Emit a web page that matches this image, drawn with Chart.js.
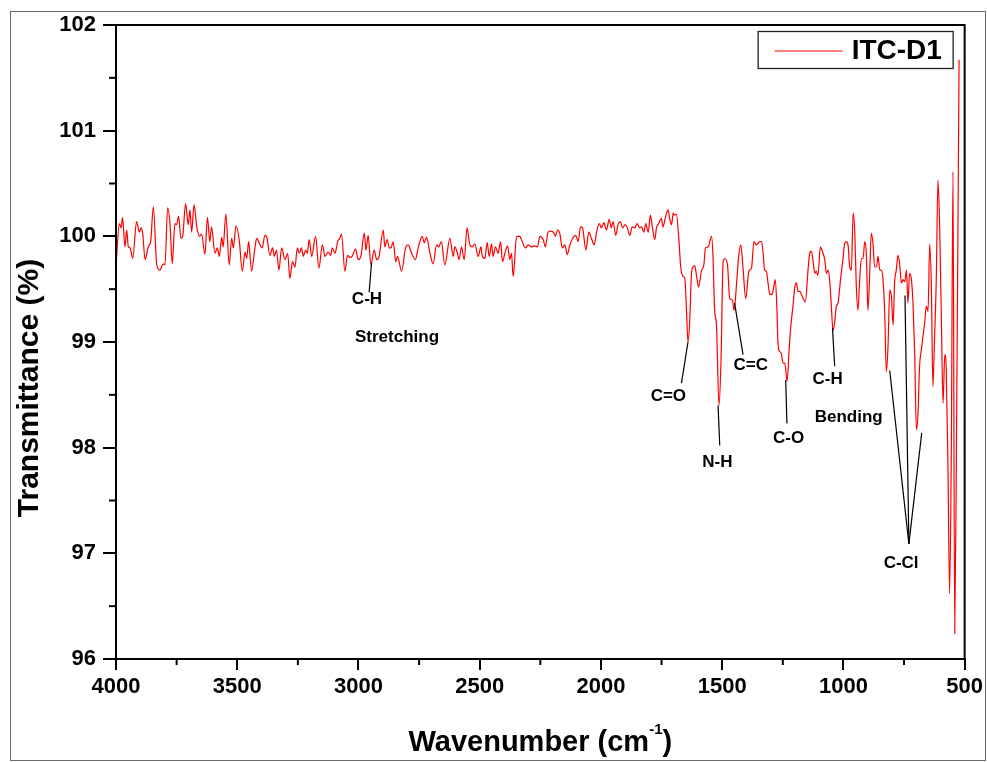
<!DOCTYPE html>
<html>
<head>
<meta charset="utf-8">
<script src="https://cdn.jsdelivr.net/npm/chart.js@4.4.1/dist/chart.umd.min.js"></script>
<style>
  html, body { margin: 0; padding: 0; background: #fff; }
  #wrap { width: 987px; height: 762px; position: relative; }
</style>
</head>
<body>
<div id="wrap"><canvas id="c" width="987" height="762"></canvas></div>
<script>
// FTIR spectrum of ITC-D1: wavenumber (cm-1) and transmittance (%)
const wavenumber = [
  4000,3986,3979,3973,3963,3956,3949,3942,3931,3915,3904,3897,3890,3880,3867,3857,3846,3832,3819,3805,
  3798,3787,3777,3768,3757,3750,3742,3732,3725,3713,3702,3695,3688,3678,3667,3654,3647,3633,3623,3613,
  3606,3592,3582,3574,3564,3558,3547,3533,3523,3516,3505,3492,3479,3468,3461,3453,3441,3427,3420,3406,
  3397,3386,3379,3365,3354,3347,3338,3328,3317,3303,3292,3283,3272,3262,3252,3244,3235,3228,3218,3211,
  3203,3193,3177,3163,3149,3138,3125,3115,3108,3097,3090,
  3086,3077,3070,3056,3045,3035,3026,3012,3001,2990,2976,2969,2960,2949,2935,2925,2915,2898,2891,2882,
  2873,2866,2857,2846,2839,2822,2805,2795,2781,2765,2754,2737,2729,2719,2706,2692,2678,2669,2658,2644,
  2623,2609,2603,2592,2585,2575,2564,2552,2541,2531,2520,2506,2495,2490,2479,2469,2461,2451,2445,2435,
  2424,2414,2406,2396,2385,2376,2369,2362,2348,2335,2328,2311,2300,2287,2273,2262,2252,2238,2229,2218,
  2204,2194,2188,2179,
  2170,2159,2149,2139,2128,2117,2104,2094,2084,2076,2062,2050,2039,2028,2018,2007,1998,1988,1977,1966,
  1957,1950,1939,1929,1920,1911,1900,1891,1881,1871,1860,1851,1840,1833,1823,1815,1805,1796,1788,1778,
  1771,1762,1751,1744,1733,1723,1716,1709,1702,1696,1689,1678,1671,1661,1654,1647,1641,1634,1627,1620,
  1613,1606,1597,1586,1575,1569,1558,1544,1538,1531,1524,1513,1505,1496,1489,1478,1469,1458,1451,1441,
  1432,1423,1414,1403,1390,1379,1369,1359,
  1345,1338,1331,1325,1318,1311,1304,1294,1286,1281,1274,1270,1263,1256,1249,1242,1232,1224,1217,1208,
  1201,1194,1187,1180,1173,1166,1157,1146,1139,1132,1125,1118,1112,1105,1095,1087,1077,1070,1063,1057,
  1050,1043,1036,1029,1022,1015,1008,1002,995,988,981,974,967,960,953,947,940,933,926,919,
  912,905,899,892,885,878,871,864,857,850,844,837,830,823,816,809,802,795,789,782,
  775,768,761,754,747,740,734,727,720,713,706,699,692,686,679,672,665,658,651,644,
  637,631,624,617,610,603,596,589,582,576,569,562,555,548,541,534,523
];
const transmittance = [
  99.72,100.12,100.08,100.18,99.90,100.06,99.90,99.89,99.79,100.14,100.04,100.08,100.03,99.78,99.90,99.95,100.28,99.73,99.68,99.74,
  99.73,100.27,100.11,99.74,100.12,100.11,100.19,99.98,100.00,100.31,100.11,100.25,100.04,100.30,100.09,100.00,100.02,99.83,100.18,99.95,
  100.09,99.84,99.89,99.81,99.99,99.90,100.21,99.73,99.98,99.89,100.10,99.97,99.67,99.85,99.79,99.95,99.67,99.89,99.98,99.92,
  99.89,100.01,100.00,99.82,99.89,99.81,99.87,99.68,99.89,99.78,99.84,99.60,99.76,99.71,99.89,99.84,99.89,99.81,99.87,99.84,
  99.97,99.81,100.00,99.70,99.92,99.81,99.85,99.82,99.89,99.84,99.90,
  99.95,99.98,100.02,99.67,99.82,99.80,99.81,99.88,99.78,99.81,100.03,99.87,100.01,99.73,99.87,99.78,99.81,100.06,99.90,99.97,
  99.89,99.89,99.95,99.76,99.81,99.67,99.90,99.92,99.84,99.78,99.89,100.00,99.94,99.99,99.85,99.74,99.92,99.90,99.95,99.73,
  99.98,99.81,99.90,99.84,99.78,99.90,99.78,100.08,99.92,99.90,99.93,99.81,99.90,99.82,99.79,99.94,99.81,99.93,99.81,99.90,
  99.84,99.95,99.76,99.84,99.91,99.78,99.84,99.62,100.00,100.00,99.97,99.89,99.92,99.90,99.91,99.90,100.00,99.97,99.90,100.04,
  100.05,100.03,100.00,100.06,
  100.03,99.89,99.92,99.83,99.92,99.98,100.01,99.95,100.09,100.08,99.87,100.04,99.98,99.92,100.04,100.12,100.08,100.13,100.06,100.16,
  100.08,100.14,100.01,100.12,100.14,100.08,100.11,100.08,100.01,100.09,100.08,100.12,100.08,100.09,100.04,100.12,100.04,100.20,100.09,99.97,
  100.08,100.12,100.17,100.09,100.19,100.25,100.16,100.11,100.22,100.20,100.21,99.95,99.71,99.62,99.60,99.29,99.00,99.19,99.63,99.71,
  99.72,99.63,99.52,99.67,99.74,99.89,99.90,100.00,99.82,99.29,99.18,98.40,98.81,99.76,99.79,99.73,99.41,99.40,99.30,99.54,
  99.81,99.92,99.70,99.41,99.67,99.70,99.95,99.92,
  99.95,99.95,99.84,99.68,99.67,99.56,99.45,99.45,99.54,99.59,99.30,98.99,98.91,98.89,98.80,98.80,98.63,98.92,99.15,99.34,
  99.51,99.56,99.48,99.48,99.45,99.41,99.38,99.68,99.84,99.86,99.76,99.65,99.67,99.63,99.90,99.86,99.78,99.65,99.68,99.59,
  99.35,99.11,99.19,99.34,99.37,99.52,99.67,99.78,99.93,99.95,99.92,99.71,99.68,100.22,100.03,99.54,99.30,99.59,99.79,99.79,
  99.95,99.81,99.30,99.62,100.03,99.93,99.71,99.71,99.81,99.68,99.68,99.60,99.30,98.72,98.96,99.49,99.43,99.16,99.56,99.68,
  99.82,99.74,99.56,99.59,99.57,99.68,99.37,99.65,99.60,99.37,98.89,98.17,98.34,98.77,98.92,99.05,99.18,99.34,99.29,99.93,
  99.49,98.58,99.05,99.59,100.53,100.09,99.21,98.42,98.88,98.74,97.85,96.62,97.98,100.61,96.24,97.95,101.67
];

const seriesName = 'ITC-D1';
const xMajorTicks = [4000, 3500, 3000, 2500, 2000, 1500, 1000, 500];
const xMinorTicks = [3750, 3250, 2750, 2250, 1750, 1250, 750];
const yMajorTicks = [96, 97, 98, 99, 100, 101, 102];
const yMinorTicks = [96.5, 97.5, 98.5, 99.5, 100.5, 101.5];

// Band assignments: text and anchor (wavenumber, transmittance)
const bandText = ['C-H', 'Stretching', 'C=O', 'N-H', 'C=C', 'C-O', 'C-H', 'Bending', 'C-Cl'];
const bandTextX = [2965, 2841, 1722, 1520, 1382, 1226, 1065, 978, 762];
const bandTextY = [99.40, 99.04, 98.49, 97.86, 98.78, 98.09, 98.65, 98.29, 96.91];

// Leader lines from a band to its label
const leaderFromX = [2946, 1641, 1517, 1449, 1238, 1045, 809, 746, 677];
const leaderFromY = [99.75, 99.00, 98.40, 99.37, 98.64, 99.13, 98.73, 99.44, 98.14];
const leaderToX   = [2956, 1668, 1510, 1414, 1233, 1036, 730, 730, 730];
const leaderToY   = [99.47, 98.61, 98.02, 98.88, 98.23, 98.77, 97.09, 97.09, 97.09];

const FONT = '"Liberation Sans", Arial, Helvetica, sans-serif';

const points = wavenumber.map((w, i) => ({ x: w, y: transmittance[i] }));

const decor = {
  id: 'decor',
  afterDraw(chart) {
    const { ctx, chartArea: a, scales: { x, y } } = chart;
    ctx.save();

    // leader lines
    ctx.strokeStyle = '#000';
    ctx.lineWidth = 1.2;
    for (let i = 0; i < leaderFromX.length; i++) {
      ctx.beginPath();
      ctx.moveTo(x.getPixelForValue(leaderFromX[i]), y.getPixelForValue(leaderFromY[i]));
      ctx.lineTo(x.getPixelForValue(leaderToX[i]), y.getPixelForValue(leaderToY[i]));
      ctx.stroke();
    }

    // band labels
    ctx.fillStyle = '#000';
    ctx.font = 'bold 17px ' + FONT;
    ctx.textAlign = 'center';
    ctx.textBaseline = 'middle';
    for (let i = 0; i < bandText.length; i++) {
      ctx.fillText(bandText[i], x.getPixelForValue(bandTextX[i]), y.getPixelForValue(bandTextY[i]));
    }

    // plot frame
    ctx.strokeStyle = '#000';
    ctx.lineWidth = 2;
    ctx.strokeRect(a.left, a.top, a.right - a.left, a.bottom - a.top);

    // minor ticks
    ctx.lineWidth = 2;
    xMinorTicks.forEach(v => {
      const px = x.getPixelForValue(v);
      ctx.beginPath(); ctx.moveTo(px, a.bottom); ctx.lineTo(px, a.bottom + 6); ctx.stroke();
    });
    yMinorTicks.forEach(v => {
      const py = y.getPixelForValue(v);
      ctx.beginPath(); ctx.moveTo(a.left - 7, py); ctx.lineTo(a.left, py); ctx.stroke();
    });

    // legend
    const lx = a.right - 207, ly = a.top + 6;
    ctx.lineWidth = 1.3;
    ctx.strokeStyle = '#222';
    ctx.strokeRect(lx + 0.5, ly + 0.5, 195, 37);
    ctx.strokeStyle = '#ff0000';
    ctx.lineWidth = 1.2;
    ctx.beginPath(); ctx.moveTo(lx + 17, ly + 20); ctx.lineTo(lx + 85, ly + 20); ctx.stroke();
    ctx.fillStyle = '#000';
    ctx.font = 'bold 28px ' + FONT;
    ctx.textAlign = 'left';
    ctx.textBaseline = 'middle';
    ctx.fillText(seriesName, lx + 94, ly + 20);

    // x axis title with superscript
    ctx.textBaseline = 'middle';
    const t1 = 'Wavenumber (cm';
    ctx.font = 'bold 29px ' + FONT;
    const w1 = ctx.measureText(t1).width;
    ctx.font = 'bold 15px ' + FONT;
    const w2 = ctx.measureText('-1').width;
    ctx.font = 'bold 29px ' + FONT;
    const w3 = ctx.measureText(')').width;
    const sx = (a.left + a.right) / 2 - (w1 + w2 + w3) / 2;
    const ty = 743;
    ctx.textAlign = 'left';
    ctx.fillText(t1, sx, ty);
    ctx.font = 'bold 15px ' + FONT;
    ctx.fillText('-1', sx + w1, ty - 13);
    ctx.font = 'bold 29px ' + FONT;
    ctx.fillText(')', sx + w1 + w2, ty);

    // y axis title
    ctx.translate(30, 388);
    ctx.rotate(-Math.PI / 2);
    ctx.textAlign = 'center';
    ctx.font = 'bold 30px ' + FONT;
    ctx.fillText('Transmittance (%)', 0, 0);
    ctx.setTransform(1, 0, 0, 1, 0, 0);

    // outer figure border
    ctx.strokeStyle = '#666';
    ctx.lineWidth = 1;
    ctx.strokeRect(10.5, 11.5, 975, 749);

    ctx.restore();
  }
};

new Chart(document.getElementById('c'), {
  type: 'line',
  data: {
    datasets: [{
      label: seriesName,
      data: points,
      borderColor: '#ff0000',
      borderWidth: 1.2,
      pointRadius: 0,
      fill: false,
      cubicInterpolationMode: 'monotone'
    }]
  },
  options: {
    responsive: false,
    animation: false,
    events: [],
    layout: { padding: { left: 10, top: 25, right: 22, bottom: 0 } },
    plugins: { legend: { display: false }, tooltip: { enabled: false } },
    scales: {
      x: {
        type: 'linear',
        reverse: true,
        min: 500,
        max: 4000,
        afterBuildTicks(scale) { scale.ticks = xMajorTicks.map(v => ({ value: v })); },
        afterFit(scale) { scale.height = 103; },
        ticks: {
          color: '#000',
          font: { family: FONT, size: 22, weight: 'bold' },
          padding: 4,
          maxRotation: 0,
          autoSkip: false,
          callback: v => String(v)
        },
        grid: { drawOnChartArea: false, drawTicks: true, tickLength: 11, color: '#000', lineWidth: 2 },
        border: { display: true, color: '#000', width: 2 }
      },
      y: {
        type: 'linear',
        min: 96,
        max: 102,
        afterBuildTicks(scale) { scale.ticks = yMajorTicks.map(v => ({ value: v })); },
        afterFit(scale) { scale.width = 106; },
        ticks: {
          color: '#000',
          font: { family: FONT, size: 22, weight: 'bold' },
          padding: 7,
          callback: v => String(v)
        },
        grid: { drawOnChartArea: false, drawTicks: true, tickLength: 13, color: '#000', lineWidth: 2 },
        border: { display: true, color: '#000', width: 2 }
      }
    }
  },
  plugins: [decor]
});
</script>
</body>
</html>
